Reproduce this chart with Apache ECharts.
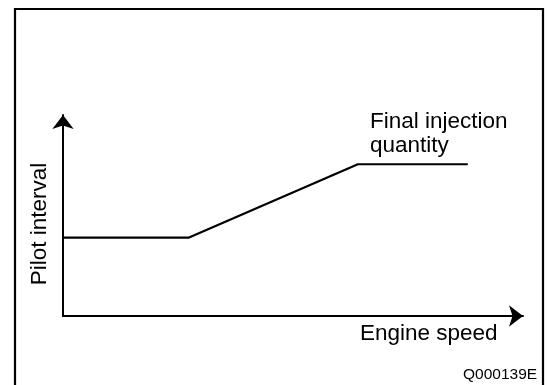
<!DOCTYPE html>
<html>
<head>
<meta charset="utf-8">
<script src="https://cdn.jsdelivr.net/npm/echarts@6/dist/echarts.min.js"></script>
<style>
  html, body { margin: 0; padding: 0; background: #fff; }
  #chart { width: 547px; height: 385px; }
</style>
</head>
<body>
<div id="chart"></div>
<script>
// Pilot interval vs. engine speed (qualitative characteristic)
const engineSpeed = [0, 27.4, 64.1, 88.0];
const pilotInterval = [39, 39, 75.5, 75.5];
const xAxisTitle = 'Engine speed';
const yAxisTitle = 'Pilot interval';
const curveLabel = ['Final injection', 'quantity'];
const figureCode = 'Q000139E';

const FONT = '"Liberation Sans", Arial, sans-serif';
const chart = echarts.init(document.getElementById('chart'), null, { renderer: 'canvas' });

const axisLineStyle = {
  show: true,
  symbol: ['none', 'arrow'],
  symbolSize: [16, 14],
  lineStyle: { color: '#000', width: 2 }
};

chart.setOption({
  animation: false,
  backgroundColor: '#ffffff',
  grid: { left: 63, right: 24, top: 115, bottom: 69 },
  xAxis: {
    type: 'value', min: 0, max: 100,
    axisLine: axisLineStyle,
    axisTick: { show: false }, axisLabel: { show: false }, splitLine: { show: false }
  },
  yAxis: {
    type: 'value', min: 0, max: 100,
    axisLine: axisLineStyle,
    axisTick: { show: false }, axisLabel: { show: false }, splitLine: { show: false }
  },
  series: [{
    type: 'line',
    data: engineSpeed.map((s, i) => [s, pilotInterval[i]]),
    symbol: 'none',
    lineStyle: { color: '#000', width: 2.2 }
  }],
  graphic: [
    { type: 'rect', shape: { x: 15, y: 9, width: 528, height: 400 },
      style: { fill: 'none', stroke: '#000', lineWidth: 2.2 } },
    { type: 'text', left: 370, top: 110,
      style: { text: curveLabel.join('\n'), font: '22.5px ' + FONT, fill: '#000', lineHeight: 24 } },
    { type: 'text', x: 40, y: 224, rotation: Math.PI / 2,
      style: { text: yAxisTitle, font: '22.5px ' + FONT, fill: '#000', align: 'center', verticalAlign: 'middle' } },
    { type: 'text', left: 360, top: 322,
      style: { text: xAxisTitle, font: '22.5px ' + FONT, fill: '#000' } },
    { type: 'text', left: 463, top: 367,
      style: { text: figureCode, font: '15.5px ' + FONT, fill: '#000' } }
  ]
});
</script>
</body>
</html>
